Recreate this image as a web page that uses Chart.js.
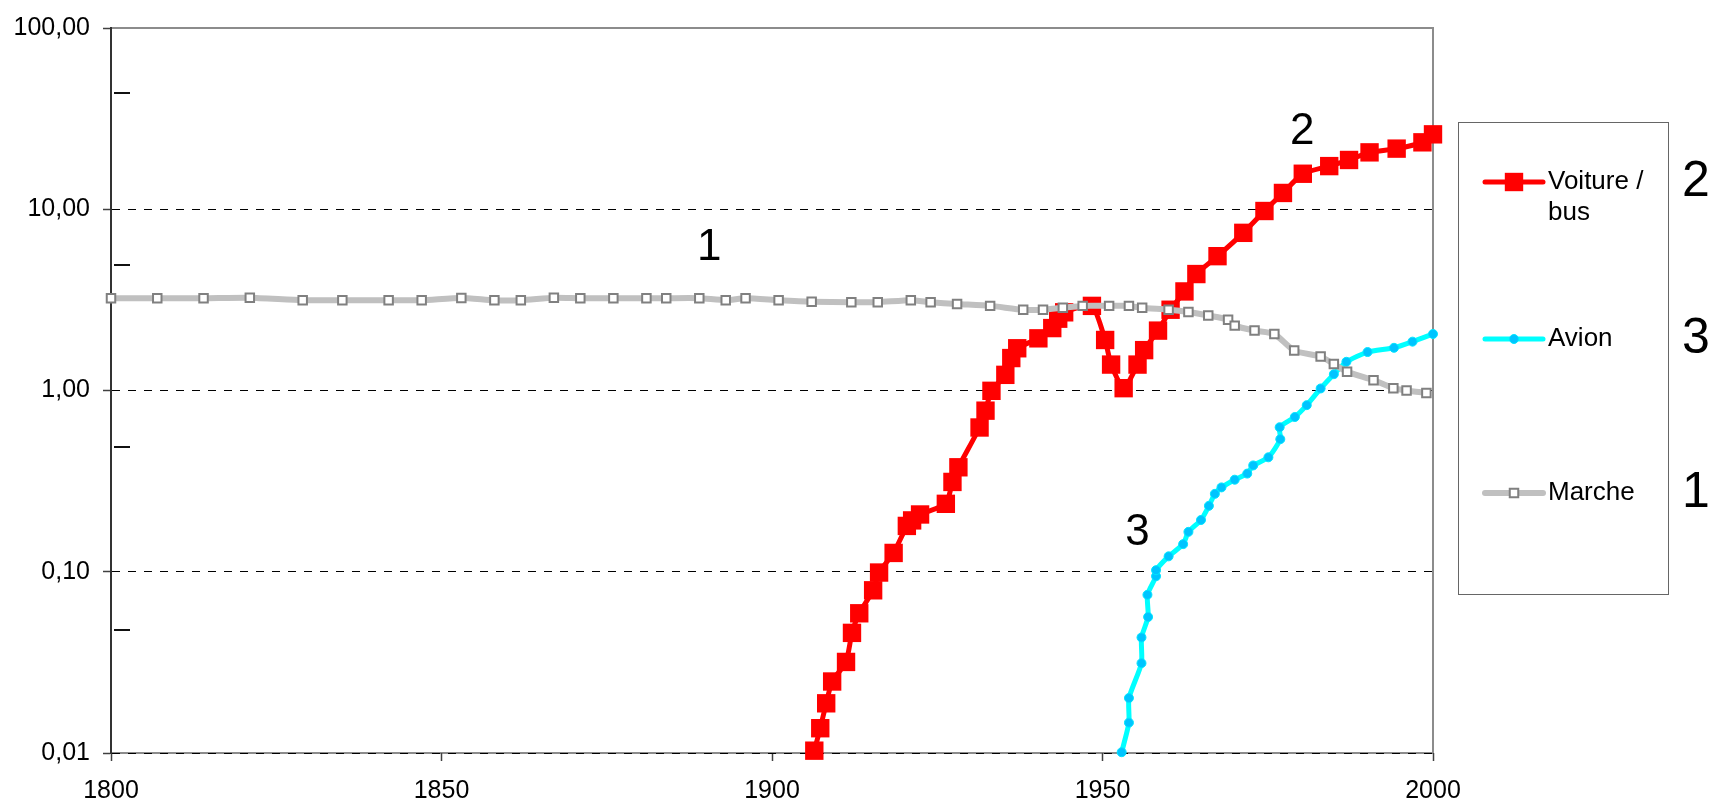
<!DOCTYPE html>
<html lang="fr">
<head>
<meta charset="utf-8">
<title>Vitesse de déplacement 1800–2000</title>
<script src="https://cdn.jsdelivr.net/npm/chart.js@4.4.1/dist/chart.umd.min.js"></script>
<style>
  html, body { margin: 0; padding: 0; background: #ffffff; }
  #wrap { width: 1715px; height: 805px; }
</style>
</head>
<body>
<div id="wrap"><canvas id="chart" width="1715" height="805"></canvas></div>
<script>
// ---- Data: year and value for each mode of transport (log scale) ----
const voitureYears = [1906.4, 1907.3, 1908.2, 1909.1, 1911.2, 1912.1, 1913.2, 1915.3, 1916.2, 1918.4,
  1920.4, 1921.2, 1922.4, 1926.3, 1927.3, 1928.2, 1931.4, 1932.3, 1933.2, 1935.3,
  1936.2, 1937.1, 1940.3, 1942.4, 1943.3, 1944.2, 1948.4, 1950.4, 1951.3, 1953.2,
  1955.3, 1956.3, 1958.4, 1960.3, 1962.4, 1964.2, 1967.4, 1971.3, 1974.5, 1977.3,
  1980.3, 1984.3, 1987.3, 1990.4, 1994.5, 1998.4, 2000.0];
const voitureValues = [0.0103, 0.0137, 0.0188, 0.0248, 0.0318, 0.046, 0.059, 0.079, 0.099, 0.127,
  0.179, 0.192, 0.207, 0.237, 0.313, 0.377, 0.625, 0.774, 0.996, 1.22,
  1.51, 1.71, 1.94, 2.21, 2.49, 2.70, 2.93, 1.90, 1.39, 1.03,
  1.39, 1.67, 2.14, 2.79, 3.52, 4.39, 5.51, 7.41, 9.78, 12.3,
  15.7, 17.3, 18.7, 20.6, 21.6, 23.4, 25.9];

const avionYears = [1952.9, 1954.0, 1954.0, 1955.9, 1955.9, 1956.9, 1956.8, 1958.1, 1958.1, 1960.0,
  1962.2, 1963.0, 1964.9, 1966.1, 1967.0, 1968.0, 1970.0, 1971.9, 1972.8, 1975.1,
  1976.9, 1976.8, 1979.1, 1980.9, 1983.0, 1985.0, 1986.9, 1990.1, 1994.1, 1996.9, 2000.0];
const avionValues = [0.0101, 0.0147, 0.0201, 0.0313, 0.0434, 0.0563, 0.0746, 0.0945, 0.102, 0.1216,
  0.142, 0.166, 0.193, 0.231, 0.269, 0.292, 0.322, 0.348, 0.386, 0.428,
  0.539, 0.627, 0.714, 0.830, 1.026, 1.23, 1.44, 1.63, 1.72, 1.86, 2.05];

const marcheYears = [1800, 1807, 1814, 1821, 1829, 1835, 1842, 1847, 1853, 1858,
  1862, 1867, 1871, 1876, 1881, 1884, 1889, 1893, 1896, 1901,
  1906, 1912, 1916, 1921, 1924, 1928, 1933, 1938, 1941, 1944,
  1947, 1951, 1954, 1956, 1960, 1963, 1966, 1969, 1970, 1973,
  1976, 1979, 1983, 1985, 1987, 1991, 1994, 1996, 1999];
const marcheValues = [3.23, 3.23, 3.23, 3.25, 3.15, 3.15, 3.15, 3.15, 3.24, 3.15,
  3.15, 3.25, 3.23, 3.23, 3.23, 3.23, 3.23, 3.15, 3.23, 3.15,
  3.09, 3.07, 3.07, 3.15, 3.07, 3.00, 2.93, 2.79, 2.79, 2.86,
  2.93, 2.93, 2.93, 2.86, 2.79, 2.71, 2.59, 2.46, 2.28, 2.14,
  2.05, 1.66, 1.54, 1.40, 1.27, 1.14, 1.03, 1.00, 0.97];

// ---- Axis ticks ----
const xTickValues = [1800, 1850, 1900, 1950, 2000];
const yTickValues = [0.01, 0.1, 1, 10, 100];
const yMinorMarks = [44, 4.9, 0.49, 0.048];

// ---- Text ----
const legendNames = [['Voiture /', 'bus'], ['Avion'], ['Marche']];
const legendNumbers = ['2', '3', '1'];
const curveNumbers = ['1', '2', '3'];
const curveNumberYears = [1890.5, 1980.2, 1955.3];
const curveNumberValues = [6.1, 26.6, 0.164];

const FONT = "'Liberation Sans', Arial, Helvetica, sans-serif";
Chart.defaults.font.family = FONT;
Chart.defaults.color = '#000000';

// Year labels use the narrow cut of the sans face when it is installed
function fontInstalled(name) {
  const c = document.createElement('canvas').getContext('2d');
  const probe = '1800 1850 1900 1950 2000';
  c.font = '40px monospace';
  const w0 = c.measureText(probe).width;
  c.font = "40px '" + name + "', monospace";
  return c.measureText(probe).width !== w0;
}
const hasNarrow = fontInstalled('Liberation Sans Narrow');
const xTickFont = hasNarrow
  ? { family: "'Liberation Sans Narrow', " + FONT, size: 30 }
  : { family: FONT, size: 25 };
const xTickPadding = hasNarrow ? 12 : 15;

const toPoints = (xs, ys) => xs.map((x, i) => ({ x: x, y: ys[i] }));

const datasets = [
  {
    label: 'Voiture / bus',
    data: toPoints(voitureYears, voitureValues),
    borderColor: '#ff0000', backgroundColor: '#ff0000', borderWidth: 5,
    pointStyle: 'rect', pointRadius: 13, pointHoverRadius: 13,
    pointBackgroundColor: '#ff0000', pointBorderColor: '#ff0000', pointBorderWidth: 0,
    tension: 0.2, order: 2
  },
  {
    label: 'Avion',
    data: toPoints(avionYears, avionValues),
    borderColor: '#00ffff', backgroundColor: '#00ccff', borderWidth: 5,
    pointStyle: 'circle', pointRadius: 4.5, pointHoverRadius: 4.5,
    pointBackgroundColor: '#00c4ff', pointBorderColor: '#00e6ff', pointBorderWidth: 1,
    tension: 0.2, order: 1
  },
  {
    label: 'Marche',
    data: toPoints(marcheYears, marcheValues),
    borderColor: '#c0c0c0', backgroundColor: '#ffffff', borderWidth: 6,
    pointStyle: 'rect', pointRadius: 6, pointHoverRadius: 6,
    pointBackgroundColor: '#ffffff', pointBorderColor: '#808080', pointBorderWidth: 2,
    tension: 0.2, order: 0
  }
];
datasets.forEach(d => {
  d.clip = false;
  d.fill = false;
  d.borderCapStyle = 'round';
  d.borderJoinStyle = 'round';
});

// Grey frame round the plot area, drawn first so the dashed grid lies over it
const framePlugin = {
  id: 'frame',
  beforeDraw(chart) {
    const { ctx, chartArea: a } = chart;
    ctx.save();
    ctx.strokeStyle = '#8c8c8c';
    ctx.lineWidth = 2;
    ctx.beginPath();
    ctx.moveTo(a.left, a.top);
    ctx.lineTo(a.right, a.top);
    ctx.lineTo(a.right, a.bottom);
    ctx.lineTo(a.left, a.bottom);
    ctx.stroke();
    ctx.restore();
  },
  // short marks along the value axis
  beforeDatasetsDraw(chart) {
    const { ctx, chartArea: a, scales: { y } } = chart;
    ctx.save();
    ctx.strokeStyle = '#111111';
    ctx.lineWidth = 2;
    yMinorMarks.forEach(v => {
      const py = Math.round(y.getPixelForValue(v));
      ctx.beginPath();
      ctx.moveTo(a.left + 3, py);
      ctx.lineTo(a.left + 19, py);
      ctx.stroke();
    });
    ctx.restore();
  }
};

// Curve numbers, legend box and legend numbers
const annotatePlugin = {
  id: 'annotate',
  afterDatasetsDraw(chart) {
    const { ctx, chartArea: a, scales: { x, y } } = chart;
    ctx.save();
    ctx.fillStyle = '#000000';
    ctx.textAlign = 'center';
    ctx.textBaseline = 'middle';
    ctx.font = '44px ' + FONT;
    curveNumbers.forEach((t, i) => {
      ctx.fillText(t, x.getPixelForValue(curveNumberYears[i]), y.getPixelForValue(curveNumberValues[i]));
    });

    // legend box
    const bx = a.right + 25, by = a.top + 94, bw = 210, bh = 472;
    ctx.strokeStyle = '#666666';
    ctx.lineWidth = 1;
    ctx.strokeRect(bx + 0.5, by + 0.5, bw, bh);

    const rowY = [by + 60, by + 217, by + 371];
    chart.data.datasets.forEach((ds, i) => {
      const ry = rowY[i];
      ctx.save();
      ctx.strokeStyle = ds.borderColor;
      ctx.lineWidth = ds.borderWidth;
      ctx.lineCap = 'round';
      ctx.beginPath();
      ctx.moveTo(bx + 27, ry);
      ctx.lineTo(bx + 85, ry);
      ctx.stroke();
      ctx.fillStyle = ds.pointBackgroundColor;
      ctx.strokeStyle = ds.pointBorderColor;
      ctx.lineWidth = ds.pointBorderWidth;
      Chart.helpers.drawPoint(ctx, {
        pointStyle: ds.pointStyle, radius: ds.pointRadius, rotation: 0, borderWidth: ds.pointBorderWidth
      }, bx + 56, ry);
      ctx.restore();

      ctx.fillStyle = '#000000';
      ctx.textAlign = 'left';
      ctx.textBaseline = 'middle';
      ctx.font = '26px ' + FONT;
      legendNames[i].forEach((line, k) => ctx.fillText(line, bx + 90, ry + k * 31));

      ctx.textAlign = 'center';
      ctx.font = '50px ' + FONT;
      ctx.fillText(legendNumbers[i], bx + 238, ry);
    });
    ctx.restore();
  }
};

new Chart(document.getElementById('chart'), {
  type: 'line',
  data: { datasets: datasets },
  options: {
    responsive: false,
    animation: false,
    devicePixelRatio: 1,
    layout: { padding: { top: 23, right: 282, bottom: 0, left: 0 } },
    plugins: { legend: { display: false }, tooltip: { enabled: false } },
    scales: {
      x: {
        type: 'linear', min: 1800, max: 2000,
        afterBuildTicks: s => { s.ticks = xTickValues.map(v => ({ value: v })); },
        afterFit: s => { s.height = 52; },
        ticks: { font: xTickFont, color: '#000000', padding: xTickPadding, maxRotation: 0, autoSkip: false,
                 callback: v => String(v) },
        grid: { drawOnChartArea: false, drawTicks: true, tickLength: 8, tickColor: '#404040', tickWidth: 1.5 },
        border: { display: false }
      },
      y: {
        type: 'logarithmic', min: 0.01, max: 100,
        afterBuildTicks: s => { s.ticks = yTickValues.map(v => ({ value: v })); },
        afterFit: s => { s.width = 111; },
        ticks: { font: { size: 25 }, color: '#000000', padding: 13, autoSkip: false,
                 callback: v => Number(v).toFixed(2).replace('.', ',') },
        grid: {
          color: c => (c.tick && c.tick.value === 100) ? 'rgba(0,0,0,0)' : '#000000',
          lineWidth: 1, drawTicks: true, tickLength: 8, tickColor: '#404040', tickWidth: 1.5
        },
        border: { display: true, color: '#333333', width: 2, dash: [8, 8] }
      }
    }
  },
  plugins: [framePlugin, annotatePlugin]
});
</script>
</body>
</html>
